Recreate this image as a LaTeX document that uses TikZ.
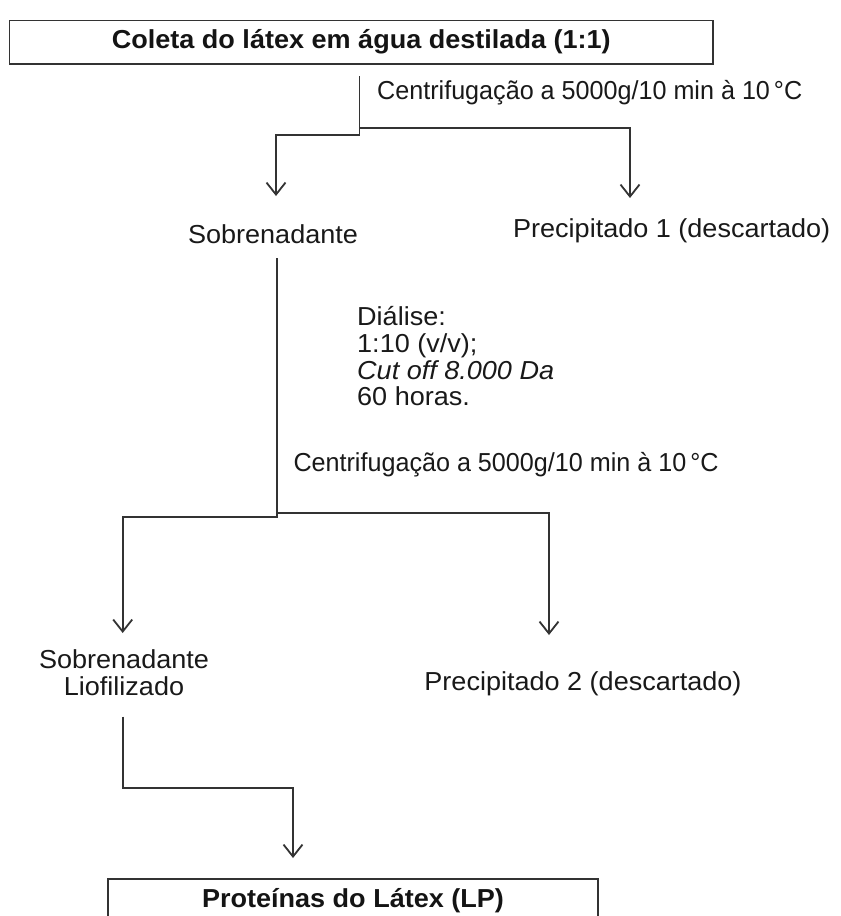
\documentclass[tikz,border=0pt]{standalone}
\usepackage{fontspec}
\setmainfont{Liberation Sans}[FakeStretch=1.04]
\usetikzlibrary{arrows.meta}
\tikzset{
  conn/.style={draw=black!80, line width=1.8pt, line join=miter},
  arr/.style={conn, -{Straight Barb[length=12pt,width=19pt]}},
  lbl/.style={font=\fontsize{26pt}{27pt}\selectfont, inner sep=0pt, text=black!90},
  boxnode/.style={draw=black!80, line width=1.9pt, font=\bfseries\fontsize{26pt}{27pt}\selectfont, anchor=north, inner xsep=0pt, text=black!92}
}
\begin{document}
\begin{tikzpicture}[x=1pt,y=-1pt]
\clip (0,0) rectangle (841,916);
\fill[white] (0,0) rectangle (841,916);
% boxes
\node[boxnode, minimum width=703.5pt, text height=22pt, text depth=9.3pt, inner ysep=6.2pt] (top) at (361.25,19.5) {Coleta do látex em água destilada (1:1)};
\node[boxnode, minimum width=490pt, text height=20pt, text depth=40pt, inner ysep=9pt] (lp) at (353,877.7) {Proteínas do Látex (LP)};
% labels
\node[lbl, anchor=base west] (c1) at (377,99) {\scalebox{0.93}[1]{Centrifugação a 5000g/10 min à 10\,°C}};
\node[lbl, anchor=base] (sob1) at (273,243.3) {Sobrenadante};
\node[lbl, anchor=base] (prec1) at (671.7,237) {Precipitado 1 (descartado)};
\node[lbl, anchor=base west] (dial1) at (357,325) {Diálise:};
\node[lbl, anchor=base west] (dial2) at (357,352.7) {1:10 (v/v);};
\node[lbl, anchor=base west] (dial3) at (357,379) {\itshape Cut off 8.000 Da};
\node[lbl, anchor=base west] (dial4) at (357,405) {60 horas.};
\node[lbl, anchor=base west] (c2) at (293.3,471.7) {\scalebox{0.93}[1]{Centrifugação a 5000g/10 min à 10\,°C}};
\node[lbl, anchor=base] (sob2a) at (124,668) {Sobrenadante};
\node[lbl, anchor=base] (sob2b) at (124,695) {Liofilizado};
\node[lbl, anchor=base] (prec2) at (583,690.7) {Precipitado 2 (descartado)};
% connector points
\coordinate (j1) at (359.5,76);
\coordinate (b1) at (359.5,128);
\coordinate (a1) at (276,196);
\coordinate (a2) at (630,198);
\coordinate (j2) at (277.3,258);
\coordinate (b2) at (277.3,513.3);
\coordinate (a3) at (122.7,633);
\coordinate (a4) at (549,635);
\coordinate (j3) at (122.7,716.7);
\coordinate (a5) at (293,858);
% connectors
\draw[arr] (j1) |- (a1 |- 0,135) -- (a1);
\draw[arr] (b1) -| (a2);
\draw[arr] (j2) |- (a3 |- 0,516.7) -- (a3);
\draw[arr] (b2) -| (a4);
\draw[arr] (j3) |- (a5 |- 0,788.3) -- (a5);
\end{tikzpicture}
\end{document}
